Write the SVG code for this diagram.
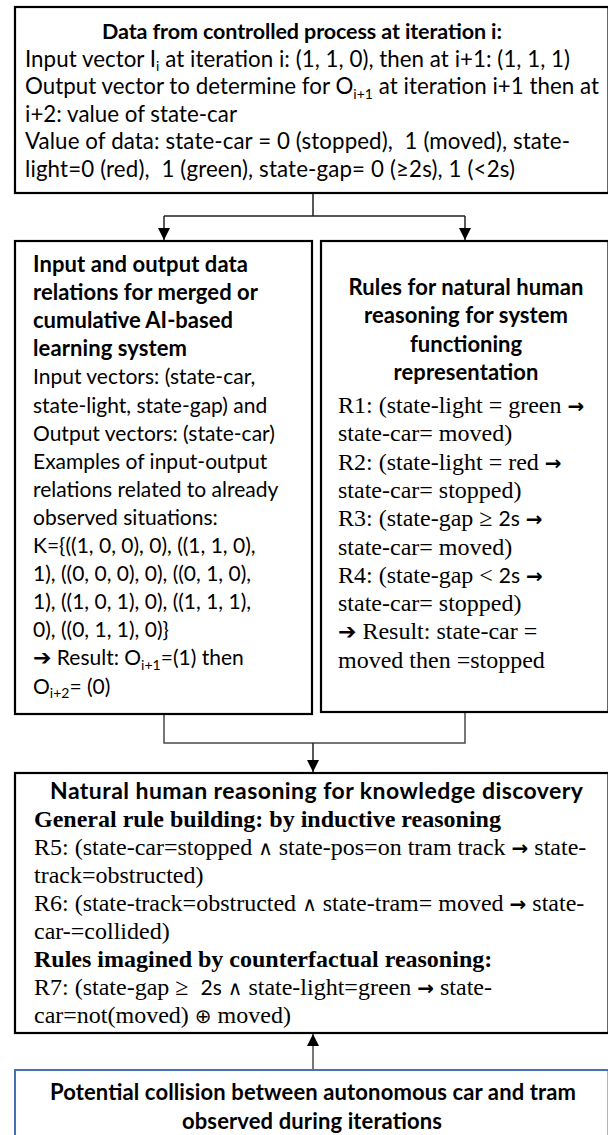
<svg xmlns="http://www.w3.org/2000/svg" width="608" height="1135" viewBox="0 0 608 1135">
<style>
.box{fill:#fff;stroke:#000;stroke-width:2.2}
.blue{fill:#fff;stroke:#4770b0;stroke-width:2}
.s{font-family:Lato,"Liberation Sans",sans-serif;font-size:21px;fill:#000}
.s2{font-family:Lato,"Liberation Sans",sans-serif;font-size:22.3px;fill:#000}
.sb{font-family:Lato,"Liberation Sans",sans-serif;font-size:22px;font-weight:bold;fill:#000}
.t{font-family:"Liberation Serif","DejaVu Serif",serif;font-size:24px;fill:#000}
.tb{font-family:"Liberation Serif","DejaVu Serif",serif;font-size:24px;font-weight:bold;fill:#000}
.ar{font-family:"DejaVu Sans",sans-serif;font-weight:bold;font-size:20px}
.hv{font-family:"DejaVu Sans",sans-serif;font-size:22px}
.op{font-family:"DejaVu Sans",sans-serif;font-size:20px}
.n{font-family:Lato,"Liberation Sans",sans-serif;font-size:21px}
.sub{font-size:14px}
.c{text-anchor:middle}
.ln{fill:none;stroke:#222;stroke-width:1.5}
.lg{fill:none;stroke:#4a4a4a;stroke-width:1.5}
</style>
<defs>
<marker id="ah" markerUnits="userSpaceOnUse" markerWidth="14" markerHeight="14" refX="12" refY="6" orient="auto">
<path d="M0,0 L12,6 L0,12 Z" fill="#000"/>
</marker>
</defs>

<g id="connectors">
<path class="ln" d="M313,193 V216 M164,216 H465"/>
<path class="ln" d="M164,216 V240" marker-end="url(#ah)"/>
<path class="ln" d="M465,216 V240" marker-end="url(#ah)"/>
<path class="lg" d="M164,714 V743 H465 V712"/>
<path class="ln" d="M313,743 V772" marker-end="url(#ah)"/>
<path class="lg" d="M313,1070 V1034" marker-end="url(#ah)"/>
</g>

<g id="node-data">
<rect class="box" x="15" y="7" width="593.5" height="186"/>
<text class="sb c" x="302" y="39" textLength="400" style="font-size:21.5px">Data from controlled process at iteration i:</text>
<text class="s2" x="25" y="66.6" textLength="545">Input vector I<tspan class="sub" dy="4.5">i</tspan><tspan dy="-4.5"> at iteration i: (1, 1, 0), then at i+1: (1, 1, 1)</tspan></text>
<text class="s2" x="25" y="94.2" textLength="574">Output vector to determine for O<tspan class="sub" dy="4.5">i+1</tspan><tspan dy="-4.5"> at iteration i+1 then at</tspan></text>
<text class="s2" x="25" y="121.8" textLength="212">i+2: value of state-car</text>
<text class="s2" x="25" y="149.4" textLength="545" xml:space="preserve">Value of data: state-car = 0 (stopped),  1 (moved), state-</text>
<text class="s2" x="25" y="177" textLength="490" xml:space="preserve">light=0 (red),  1 (green), state-gap= 0 (≥2s), 1 (&lt;2s)</text>
</g>

<g id="node-learning">
<rect class="box" x="15" y="241" width="297" height="473"/>
<text class="sb" x="33" y="272" textLength="215">Input and output data</text>
<text class="sb" x="33" y="300.1" textLength="225">relations for merged or</text>
<text class="sb" x="33" y="328.2" textLength="200">cumulative AI-based</text>
<text class="sb" x="33" y="356.3" textLength="154">learning system</text>
<text class="s" x="33" y="384.4">Input vectors: (state-car,</text>
<text class="s" x="33" y="412.5">state-light, state-gap) and</text>
<text class="s" x="33" y="440.6">Output vectors: (state-car)</text>
<text class="s" x="33" y="468.7">Examples of input-output</text>
<text class="s" x="33" y="496.8">relations related to already</text>
<text class="s" x="33" y="524.9">observed situations:</text>
<text class="s" x="33" y="553">K={((1, 0, 0), 0), ((1, 1, 0),</text>
<text class="s" x="33" y="581.1">1), ((0, 0, 0), 0), ((0, 1, 0),</text>
<text class="s" x="33" y="609.2">1), ((1, 0, 1), 0), ((1, 1, 1),</text>
<text class="s" x="33" y="637.3">0), ((0, 1, 1), 0)}</text>
<text class="s" x="33" y="665.4"><tspan class="hv">➔</tspan> Result: O<tspan class="sub" dy="4.5">i+1</tspan><tspan dy="-4.5">=(1) then</tspan></text>
<text class="s" x="33" y="693.5">O<tspan class="sub" dy="4.5">i+2</tspan><tspan dy="-4.5">= (0)</tspan></text>
</g>

<g id="node-rules">
<rect class="box" x="321" y="241" width="287.5" height="471"/>
<text class="sb c" x="466" y="295" textLength="235">Rules for natural human</text>
<text class="sb c" x="466" y="323.3" textLength="204">reasoning for system</text>
<text class="sb c" x="466" y="351.6" textLength="112">functioning</text>
<text class="sb c" x="466" y="380" textLength="145">representation</text>
<text class="t" x="338" y="413">R1: (state-light = green <tspan class="ar">→</tspan></text>
<text class="t" x="338" y="441.3">state-car= moved)</text>
<text class="t" x="338" y="469.6">R2: (state-light = red <tspan class="ar">→</tspan></text>
<text class="t" x="338" y="497.9">state-car= stopped)</text>
<text class="t" x="338" y="526.2">R3: (state-gap ≥ <tspan class="n">2s</tspan> <tspan class="ar">→</tspan></text>
<text class="t" x="338" y="554.5">state-car= moved)</text>
<text class="t" x="338" y="582.8">R4: (state-gap &lt; <tspan class="n">2s</tspan> <tspan class="ar">→</tspan></text>
<text class="t" x="338" y="611.1">state-car= stopped)</text>
<text class="t" x="338" y="639.4"><tspan class="hv">➔</tspan> Result: state-car =</text>
<text class="t" x="338" y="667.7">moved then =stopped</text>
</g>

<g id="node-discovery">
<rect class="box" x="15" y="773" width="593.5" height="260"/>
<text class="sb c" x="316.5" y="799" textLength="533" style="font-size:23px">Natural human reasoning for knowledge discovery</text>
<text class="tb" x="34" y="827">General rule building: by inductive reasoning</text>
<text class="t" x="34" y="855">R5: (state-car=stopped <tspan class="op">∧</tspan> state-pos=on tram track <tspan class="ar">→</tspan> state-</text>
<text class="t" x="34" y="883">track=obstructed)</text>
<text class="t" x="34" y="911">R6: (state-track=obstructed <tspan class="op">∧</tspan> state-tram= moved <tspan class="ar">→</tspan> state-</text>
<text class="t" x="34" y="939">car-=collided)</text>
<text class="tb" x="34" y="967">Rules imagined by counterfactual reasoning:</text>
<text class="t" x="34" y="995" xml:space="preserve">R7: (state-gap ≥  <tspan class="n">2s</tspan> <tspan class="op">∧</tspan> state-light=green <tspan class="ar">→</tspan> state-</text>
<text class="t" x="34" y="1023">car=not(moved) <tspan class="op">⊕</tspan> moved)</text>
</g>

<g id="node-collision">
<rect class="blue" x="15" y="1070" width="593.5" height="80"/>
<text class="sb c" x="313" y="1100" textLength="526">Potential collision between autonomous car and tram</text>
<text class="sb c" x="312" y="1129" textLength="260">observed during iterations</text>
</g>
</svg>
